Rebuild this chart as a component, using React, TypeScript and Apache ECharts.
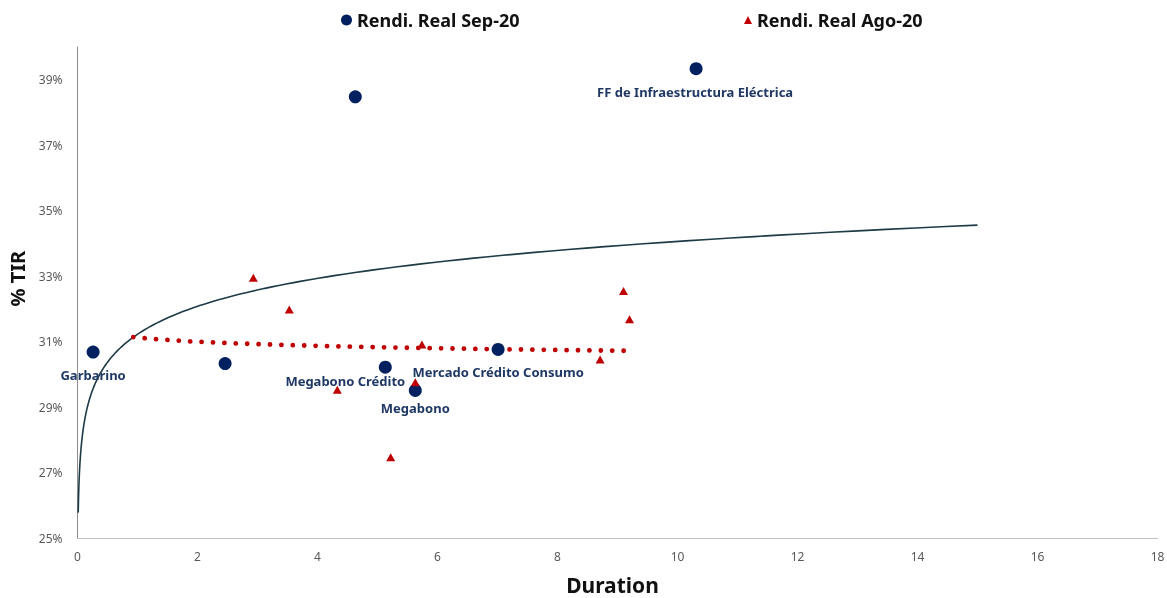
import React, { useEffect, useRef } from "react";
import * as echarts from "echarts";

// ---- data ----
const sepNames = ["Garbarino", "", "", "Megabono Crédito", "Megabono", "Mercado Crédito Consumo", "FF de Infraestructura Eléctrica"];
const sepDuration = [0.26, 2.46, 4.63, 5.13, 5.63, 7.01, 10.31];
const sepTir = [30.69, 30.34, 38.48, 30.23, 29.52, 30.77, 39.34];

const agoDuration = [2.93, 3.53, 4.33, 5.22, 5.63, 5.74, 8.71, 9.1, 9.2];
const agoTir = [32.96, 31.99, 29.54, 27.48, 29.77, 30.92, 30.46, 32.55, 31.69];

// trendline ranges (log trendlines with forecast)
const sepTrendRange = [0.012, 15];
const agoTrendRange = [0.93, 9.2];

const xTicks = { min: 0, max: 18, interval: 2 };
const yTicks = { min: 25, max: 40, interval: 2 };

// label offsets (styling only)
const labelOffsets: Record<string, number[]> = {
  "Garbarino": [0, 23],
  "Megabono Crédito": [-40, 14],
  "Megabono": [0, 18],
  "Mercado Crédito Consumo": [0, 23],
  "FF de Infraestructura Eléctrica": [-1, 23],
};

function logFit(xs: number[], ys: number[]) {
  const n = xs.length;
  const lx = xs.map((x) => Math.log(x));
  const mx = lx.reduce((a, b) => a + b, 0) / n;
  const my = ys.reduce((a, b) => a + b, 0) / n;
  let suu = 0, suv = 0;
  for (let i = 0; i < n; i++) {
    suu += (lx[i] - mx) * (lx[i] - mx);
    suv += (lx[i] - mx) * (ys[i] - my);
  }
  const b = suv / suu;
  const a = my - b * mx;
  return { a, b };
}

function trendPoints(xs: number[], ys: number[], range: number[], steps: number) {
  const { a, b } = logFit(xs, ys);
  const pts: number[][] = [];
  const l0 = Math.log(range[0]);
  const l1 = Math.log(range[1]);
  for (let i = 0; i <= steps; i++) {
    const t = i / steps;
    const x = Math.exp(l0 + (l1 - l0) * t);
    pts.push([x, a + b * Math.log(x)]);
  }
  return pts;
}

function trendPointsLinear(xs: number[], ys: number[], range: number[], steps: number) {
  const { a, b } = logFit(xs, ys);
  const pts: number[][] = [];
  for (let i = 0; i <= steps; i++) {
    const x = range[0] + (range[1] - range[0]) * (i / steps);
    pts.push([x, a + b * Math.log(x)]);
  }
  return pts;
}

const FONT = "'Noto Sans', sans-serif";

export default function App() {
  const ref = useRef<HTMLDivElement>(null);
  useEffect(() => {
    if (!ref.current) return;
    const chart = echarts.init(ref.current, undefined, { renderer: "svg" });

    const sepTrend = trendPoints(sepDuration, sepTir, sepTrendRange, 200);
    const agoTrend = trendPointsLinear(agoDuration, agoTir, agoTrendRange, 100);

    const sepData = sepDuration.map((x, i) => {
      const name = sepNames[i];
      const item: any = { value: [x, sepTir[i]], name };
      if (name) {
        item.label = {
          show: true,
          position: "inside",
          offset: labelOffsets[name] || [0, 20],
          formatter: name,
        };
      }
      return item;
    });

    chart.setOption({
      animation: false,
      textStyle: { fontFamily: FONT },
      grid: { left: 77.5, right: 9.5, top: 47, bottom: 59.5, containLabel: false, outerBoundsMode: "none" },
      legend: [
        {
          data: [{ name: "Rendi. Real Sep-20", icon: "circle" }],
          left: 336,
          top: 6,
          itemWidth: 11,
          itemHeight: 11,
          itemGap: 5,
          textStyle: { fontFamily: FONT, fontSize: 18, fontWeight: "bold", color: "#111111" },
        },
        {
          data: [{ name: "Rendi. Real Ago-20", icon: "triangle" }],
          left: 739,
          top: 6,
          itemWidth: 8,
          itemHeight: 8,
          textStyle: { fontFamily: FONT, fontSize: 18, fontWeight: "bold", color: "#111111" },
        },
      ],
      xAxis: {
        type: "value",
        min: xTicks.min,
        max: xTicks.max,
        interval: xTicks.interval,
        name: "Duration",
        nameLocation: "middle",
        nameGap: 36,
        nameTextStyle: { fontFamily: FONT, fontSize: 21, fontWeight: "bold", color: "#111111", padding: [0, 10, 0, 0] },
        axisLine: { show: true, lineStyle: { color: "#BFBFBF", width: 1 } },
        axisTick: { show: false },
        splitLine: { show: false },
        axisLabel: { color: "#595959", fontSize: 12, margin: 12, fontFamily: FONT },
      },
      yAxis: {
        type: "value",
        min: yTicks.min,
        max: yTicks.max,
        interval: yTicks.interval,
        name: "% TIR",
        nameLocation: "middle",
        nameGap: 48,
        nameRotate: 90,
        nameTextStyle: { fontFamily: FONT, fontSize: 20, fontWeight: "bold", color: "#111111", padding: [0, 0, 0, 28] },
        axisLine: { show: true, lineStyle: { color: "#8C8C8C", width: 1 } },
        axisTick: { show: false },
        splitLine: { show: false },
        axisLabel: {
          color: "#595959",
          fontSize: 12,
          margin: 15,
          fontFamily: FONT,
          showMaxLabel: false,
          formatter: (v: number) => (v === 40 ? "" : v + "%"),
        },
      },
      series: [
        {
          name: "sep-trend",
          type: "line",
          data: sepTrend,
          showSymbol: false,
          symbol: "none",
          smooth: false,
          lineStyle: { color: "#1E3A47", width: 1.6 },
          z: 2,
          silent: true,
        },
        {
          name: "ago-trend",
          type: "line",
          data: agoTrend,
          showSymbol: false,
          symbol: "none",
          lineStyle: { color: "#C00000", width: 4.8, type: [0.01, 11.4], cap: "round" },
          z: 2,
          silent: true,
        },
        {
          name: "Rendi. Real Sep-20",
          type: "scatter",
          data: sepData,
          symbol: "circle",
          symbolSize: 13,
          itemStyle: { color: "#002060", opacity: 1 },
          label: {
            show: false,
            fontFamily: FONT,
            fontSize: 13,
            fontWeight: "bold",
            color: "#1F3864",
          },
          z: 4,
        },
        {
          name: "Rendi. Real Ago-20",
          type: "scatter",
          data: agoDuration.map((x, i) => [x, agoTir[i]]),
          symbol: "triangle",
          symbolSize: [9, 8],
          itemStyle: { color: "#C00000", opacity: 1 },
          z: 5,
        },
      ],
    });
    return () => chart.dispose();
  }, []);
  return <div ref={ref} style={{ position: "fixed", left: 0, top: 0, width: 1167, height: 598 }} />;
}
